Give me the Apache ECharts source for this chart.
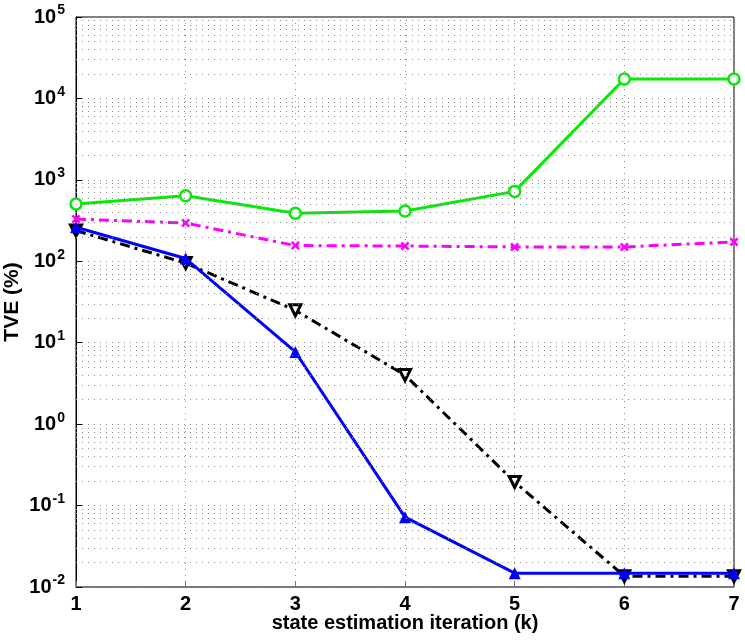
<!DOCTYPE html>
<html>
<head>
<meta charset="utf-8">
<script src="https://cdn.jsdelivr.net/npm/echarts@6/dist/echarts.min.js"></script>
<style>
html, body { margin: 0; padding: 0; background: #fff; }
#chart { width: 745px; height: 642px; }
</style>
</head>
<body>
<div id="chart"></div>
<script>
// iterations k
var iterations = [1, 2, 3, 4, 5, 6, 7];
// TVE (%) per method
var greenVals   = [506, 638, 388, 415, 722, 17300, 17300];
var magentaVals = [330, 295, 156, 154, 150, 150, 173];
var blueVals    = [262, 108, 7.7, 0.072, 0.0148, 0.0148, 0.0148];
var blackVals   = [238, 95, 25, 4.0, 0.195, 0.0136, 0.0136];
// decades shown on y
var yMin = 0.01, yMax = 100000;

function pairs(vals) {
	var out = [];
	for (var i = 0; i < iterations.length; i++) {
		out.push([iterations[i], vals[i]]);
	}
	return out;
}

// minor grid lines at 2..9 x 10^n (values, placed by the axis scale)
var minorLines = [];
for (var e = -2; e < 5; e++) {
	for (var m = 2; m <= 9; m++) {
		minorLines.push({ yAxis: m * Math.pow(10, e) });
	}
}

var dotted = { type: [1, 5], color: '#8a8a8a', width: 1 };
var crossPath = 'path://M0,2L2,0L5,3L8,0L10,2L7,5L10,8L8,10L5,7L2,10L0,8L3,5Z';

var chart = echarts.init(document.getElementById('chart'));
var option = {
	animation: false,
	grid: {
		left: 76, right: 11, top: 17, bottom: 55,
		outerBoundsMode: 'none', containLabel: false,
		show: true, borderColor: '#000', borderWidth: 1
	},
	xAxis: {
		type: 'value', min: 1, max: 7, interval: 1,
		name: 'state estimation iteration (k)',
		nameLocation: 'middle', nameGap: 26, nameMoveOverlap: false,
		nameTextStyle: { fontFamily: 'Liberation Sans', fontWeight: 'bold', fontSize: 20, color: '#000' },
		axisLine: { lineStyle: { color: '#777', width: 1.5 } },
		axisTick: { inside: true, length: 6, lineStyle: { color: '#777' } },
		axisLabel: { fontFamily: 'Liberation Sans', fontWeight: 'bold', fontSize: 20, color: '#000', margin: 7 },
		splitLine: { show: true, lineStyle: dotted }
	},
	yAxis: {
		type: 'log', logBase: 10, min: yMin, max: yMax,
		name: 'TVE (%)',
		nameLocation: 'middle', nameGap: 53, nameRotate: 90, nameMoveOverlap: false,
		nameTextStyle: { fontFamily: 'Liberation Sans', fontWeight: 'bold', fontSize: 21, color: '#000' },
		axisLine: { show: true, lineStyle: { color: '#000', width: 1 } },
		axisTick: { inside: true, length: 6, lineStyle: { color: '#000' } },
		axisLabel: {
			margin: 11,
			formatter: function (v) {
				var ex = Math.round(Math.log10(v));
				return '{b|10}{s|' + ex + '}';
			},
			rich: {
				b: { fontFamily: 'Liberation Sans', fontWeight: 'bold', fontSize: 20, color: '#000' },
				s: { fontFamily: 'Liberation Sans', fontWeight: 'bold', fontSize: 14, color: '#000', verticalAlign: 'bottom', padding: [0, 0, 13, 1] }
			}
		},
		splitLine: { show: true, lineStyle: dotted }
	},
	series: [
		{
			name: 'grid', type: 'line', data: [], silent: true,
			markLine: {
				silent: true, symbol: 'none', label: { show: false },
				lineStyle: dotted,
				data: minorLines
			}
		},
		{
			name: 'green', type: 'line', data: pairs(greenVals),
			lineStyle: { color: '#00ee00', width: 3 },
			symbol: 'circle', symbolSize: 11,
			itemStyle: { color: '#fff', borderColor: '#00ee00', borderWidth: 2.5 }
		},
		{
			name: 'magenta', type: 'line', data: pairs(magentaVals),
			lineStyle: { color: '#ff00ff', width: 3, type: [10, 5, 3, 5] },
			symbol: crossPath, symbolSize: 9,
			itemStyle: { color: '#ff00ff' }
		},
		{
			name: 'black', type: 'line', data: pairs(blackVals), z: 3,
			lineStyle: { color: '#000', width: 3, type: [10, 5, 3, 5] },
			symbol: 'triangle', symbolRotate: 180, symbolSize: 11,
			itemStyle: { color: '#fff', borderColor: '#000', borderWidth: 3 }
		},
		{
			name: 'blue', type: 'line', data: pairs(blueVals), z: 4,
			lineStyle: { color: '#0000ff', width: 3 },
			symbol: 'triangle', symbolSize: 12,
			itemStyle: { color: '#0000ff' }
		}
	]
};
chart.setOption(option);
</script>
</body>
</html>
